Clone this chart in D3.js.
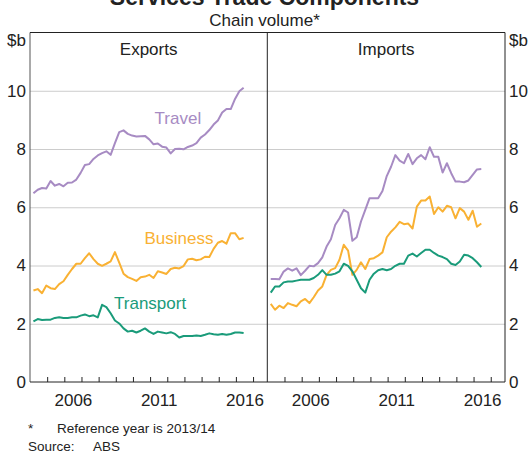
<!DOCTYPE html>
<html>
<head>
<meta charset="utf-8">
<script src="https://cdn.jsdelivr.net/npm/d3@7"></script>
<style>
  body { margin: 0; background: #fff; }
  svg { display: block; font-family: Arial, "Liberation Sans", sans-serif; }
</style>
</head>
<body>
<svg id="chart" width="529" height="454"></svg>
<script>
// quarterly data, Mar 2004 to Jun 2016
const quarters = [
  "2004Q1","2004Q2","2004Q3","2004Q4","2005Q1","2005Q2","2005Q3","2005Q4",
  "2006Q1","2006Q2","2006Q3","2006Q4","2007Q1","2007Q2","2007Q3","2007Q4",
  "2008Q1","2008Q2","2008Q3","2008Q4","2009Q1","2009Q2","2009Q3","2009Q4",
  "2010Q1","2010Q2","2010Q3","2010Q4","2011Q1","2011Q2","2011Q3","2011Q4",
  "2012Q1","2012Q2","2012Q3","2012Q4","2013Q1","2013Q2","2013Q3","2013Q4",
  "2014Q1","2014Q2","2014Q3","2014Q4","2015Q1","2015Q2","2015Q3","2015Q4",
  "2016Q1","2016Q2"
];

const exportsTravel = [
  6.48, 6.60, 6.66, 6.64, 6.90, 6.74, 6.80, 6.72, 6.84, 6.85,
  6.95, 7.18, 7.45, 7.48, 7.66, 7.78, 7.86, 7.92, 7.80, 8.20,
  8.58, 8.64, 8.52, 8.46, 8.43, 8.44, 8.45, 8.33, 8.16, 8.19,
  8.08, 8.05, 7.85, 8.00, 8.01, 7.99, 8.07, 8.12, 8.20, 8.39,
  8.50, 8.65, 8.84, 8.98, 9.25, 9.37, 9.37, 9.72, 9.98, 10.10
];
const exportsBusiness = [
  3.14, 3.19, 3.05, 3.31, 3.22, 3.19, 3.36, 3.46, 3.68, 3.88,
  4.06, 4.06, 4.25, 4.42, 4.22, 4.06, 3.99, 4.06, 4.14, 4.46,
  4.10, 3.72, 3.60, 3.54, 3.47, 3.60, 3.62, 3.68, 3.57, 3.80,
  3.76, 3.71, 3.88, 3.92, 3.90, 3.98, 4.21, 4.23, 4.18, 4.21,
  4.30, 4.29, 4.57, 4.78, 4.84, 4.75, 5.11, 5.11, 4.90, 4.95
];
const exportsTransport = [
  2.08, 2.16, 2.13, 2.14, 2.14, 2.20, 2.22, 2.20, 2.20, 2.22,
  2.22, 2.28, 2.32, 2.26, 2.29, 2.22, 2.65, 2.57, 2.36, 2.11,
  2.01, 1.84, 1.73, 1.76, 1.70, 1.76, 1.84, 1.73, 1.65, 1.73,
  1.70, 1.67, 1.71, 1.65, 1.53, 1.58, 1.58, 1.58, 1.60, 1.58,
  1.62, 1.67, 1.64, 1.62, 1.65, 1.62, 1.65, 1.70, 1.70, 1.68
];

const importsTravel = [
  3.54, 3.54, 3.53, 3.79, 3.90, 3.82, 3.90, 3.67, 3.82, 3.99,
  3.97, 4.08, 4.28, 4.65, 4.90, 5.39, 5.62, 5.91, 5.82, 4.85,
  4.97, 5.51, 5.91, 6.31, 6.31, 6.31, 6.56, 7.07, 7.39, 7.79,
  7.60, 7.51, 7.83, 7.48, 7.68, 7.79, 7.65, 8.06, 7.73, 7.73,
  7.19, 7.51, 7.17, 6.88, 6.88, 6.86, 6.92, 7.11, 7.30, 7.31
];
const importsBusiness = [
  2.68, 2.48, 2.62, 2.54, 2.71, 2.65, 2.60, 2.77, 2.85, 2.71,
  2.91, 3.14, 3.28, 3.68, 3.85, 3.91, 4.20, 4.71, 4.51, 3.68,
  3.85, 4.11, 3.88, 4.22, 4.25, 4.34, 4.45, 4.97, 5.16, 5.31,
  5.50, 5.42, 5.44, 5.27, 6.02, 6.23, 6.23, 6.37, 5.77, 6.00,
  5.85, 6.05, 6.00, 5.62, 5.97, 5.85, 5.57, 5.88, 5.33, 5.44
];
const importsTransport = [
  3.07, 3.28, 3.28, 3.42, 3.45, 3.45, 3.48, 3.51, 3.51, 3.51,
  3.57, 3.68, 3.84, 3.68, 3.68, 3.72, 3.80, 4.06, 3.99, 3.80,
  3.51, 3.22, 3.07, 3.51, 3.72, 3.84, 3.88, 3.84, 3.88, 3.99,
  4.06, 4.06, 4.34, 4.41, 4.31, 4.43, 4.54, 4.54, 4.43, 4.34,
  4.29, 4.22, 4.06, 4.02, 4.14, 4.37, 4.34, 4.25, 4.11, 3.95
];

const yTicks = [0, 2, 4, 6, 8, 10];
const tickYears = [2005, 2006, 2007, 2008, 2009, 2010, 2011, 2012, 2013, 2014, 2015, 2016, 2017];
const yearLabels = [2006, 2011, 2016];

const colors = { Travel: "#a78bc3", Business: "#f9b133", Transport: "#1a9b7a" };

// labels sit at (year, value) in data space
const seriesLabels = [
  { name: "Travel", year: 2012.62, value: 8.86 },
  { name: "Business", year: 2012.68, value: 4.74 },
  { name: "Transport", year: 2011.0, value: 2.51 }
];

const svg = d3.select("#chart");
const plotTop = 32.5, plotBottom = 382;
const leftX = 30, midX = 267.3, rightX = 505;
const xDomain = [2004, 2017.83];
const font = "Arial, 'Liberation Sans', sans-serif";

const y = d3.scaleLinear().domain([0, 12]).range([plotBottom, plotTop]);

const dateOf = q => +q.slice(0, 4) + (+q.slice(5) - 1) * 0.25 + 0.2;

const panels = [
  { title: "Exports", x0: leftX, x1: midX,
    series: { Travel: exportsTravel, Business: exportsBusiness, Transport: exportsTransport },
    labels: true },
  { title: "Imports", x0: midX, x1: rightX,
    series: { Travel: importsTravel, Business: importsBusiness, Transport: importsTransport },
    labels: false }
];

// gridlines
svg.append("g")
  .attr("transform", `translate(${leftX},0)`)
  .call(d3.axisRight(y).tickValues(yTicks.slice(1)).tickSize(rightX - leftX).tickFormat(""))
  .call(g => g.select(".domain").remove())
  .call(g => g.selectAll("line").attr("stroke", "#cccccc").attr("stroke-width", 1));

panels.forEach(p => {
  const x = d3.scaleLinear().domain(xDomain).range([p.x0, p.x1]);

  // minor year ticks pointing up
  svg.append("g")
    .attr("transform", `translate(0,${plotBottom})`)
    .call(d3.axisBottom(x).tickValues(tickYears).tickSize(-5).tickFormat(""))
    .call(g => g.select(".domain").remove())
    .call(g => g.selectAll("line").attr("stroke", "#222"));

  // year labels centred in the year
  svg.append("g")
    .attr("transform", `translate(0,${plotBottom})`)
    .call(d3.axisBottom(x).tickValues(yearLabels.map(d => d + 0.5)).tickSize(0).tickPadding(12)
      .tickFormat(d => Math.floor(d)))
    .call(g => g.select(".domain").remove())
    .call(g => g.selectAll("text").attr("font-size", 17).attr("fill", "#222")
      .attr("font-family", font));

  const line = d3.line()
    .x((d, i) => x(dateOf(quarters[i])))
    .y(d => y(d));

  Object.entries(p.series).forEach(([name, vals]) => {
    svg.append("path")
      .datum(vals)
      .attr("d", line)
      .attr("fill", "none")
      .attr("stroke", colors[name])
      .attr("stroke-width", 2)
      .attr("stroke-linejoin", "round");
  });

  if (p.labels) {
    svg.selectAll(null)
      .data(seriesLabels)
      .join("text")
      .attr("x", d => x(d.year))
      .attr("y", d => y(d.value))
      .attr("text-anchor", "middle")
      .attr("font-size", 17)
      .attr("fill", d => colors[d.name])
      .text(d => d.name);
  }

  svg.append("text")
    .attr("x", (p.x0 + p.x1) / 2)
    .attr("y", 55)
    .attr("text-anchor", "middle")
    .attr("font-size", 17)
    .attr("fill", "#222")
    .text(p.title);
});

// y axes labels
svg.append("g")
  .attr("transform", `translate(${leftX},0)`)
  .call(d3.axisLeft(y).tickValues(yTicks).tickSize(0).tickPadding(4))
  .call(g => g.select(".domain").remove())
  .call(g => g.selectAll("text").attr("font-size", 17).attr("fill", "#222")
    .attr("font-family", font));
svg.append("g")
  .attr("transform", `translate(${rightX},0)`)
  .call(d3.axisRight(y).tickValues(yTicks).tickSize(0).tickPadding(4))
  .call(g => g.select(".domain").remove())
  .call(g => g.selectAll("text").attr("font-size", 17).attr("fill", "#222")
    .attr("font-family", font));

svg.append("text").attr("x", leftX - 4).attr("y", 46).attr("text-anchor", "end")
  .attr("font-size", 17).attr("fill", "#222").text("$b");
svg.append("text").attr("x", rightX + 4).attr("y", 46)
  .attr("font-size", 17).attr("fill", "#222").text("$b");

// frame
svg.append("line").attr("x1", leftX).attr("x2", leftX).attr("y1", plotTop).attr("y2", plotBottom)
  .attr("stroke", "#555");
svg.append("line").attr("x1", midX).attr("x2", midX).attr("y1", plotTop).attr("y2", plotBottom)
  .attr("stroke", "#222");
svg.append("line").attr("x1", rightX).attr("x2", rightX).attr("y1", plotTop).attr("y2", plotBottom)
  .attr("stroke", "#222");
svg.append("line").attr("x1", leftX).attr("x2", rightX).attr("y1", plotTop).attr("y2", plotTop)
  .attr("stroke", "#222");
svg.append("line").attr("x1", leftX).attr("x2", rightX).attr("y1", plotBottom).attr("y2", plotBottom)
  .attr("stroke", "#222");

// titles (the reference shows the main title clipped at the top edge)
svg.append("text").attr("x", 264.5).attr("y", 5).attr("text-anchor", "middle")
  .attr("font-size", 23).attr("font-weight", "bold").attr("fill", "#222")
  .text("Services Trade Components");
svg.append("text").attr("x", 264.5).attr("y", 26).attr("text-anchor", "middle")
  .attr("font-size", 17).attr("fill", "#222").text("Chain volume*");

// footnotes
const notes = svg.append("g").attr("font-size", 13.5).attr("fill", "#222");
notes.append("text").attr("x", 28).attr("y", 433).text("*");
notes.append("text").attr("x", 57).attr("y", 433).text("Reference year is 2013/14");
notes.append("text").attr("x", 28).attr("y", 451).text("Source:");
notes.append("text").attr("x", 93).attr("y", 451).text("ABS");
</script>
</body>
</html>
